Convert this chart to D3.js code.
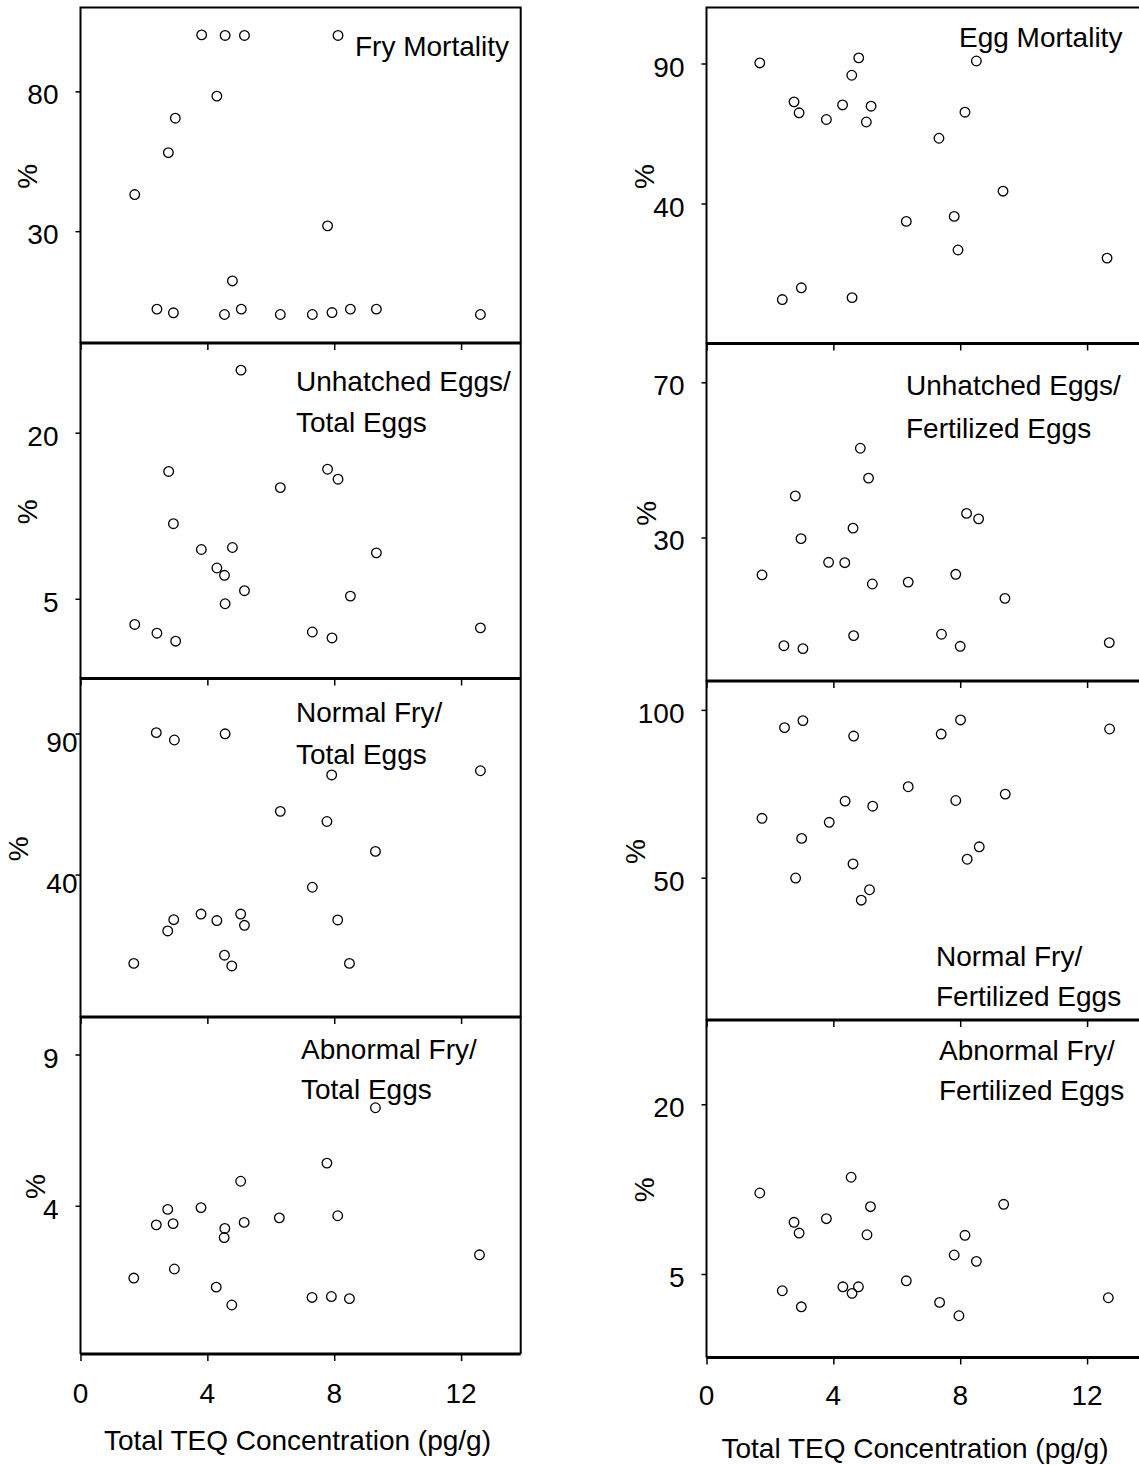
<!DOCTYPE html>
<html>
<head>
<meta charset="utf-8">
<script src="https://cdn.jsdelivr.net/npm/d3@7"></script>
<style>
  html, body { margin: 0; padding: 0; background: #fff; }
  svg text { font-family: "Liberation Sans", Arial, Helvetica, sans-serif; fill: #000; }
</style>
</head>
<body>
<svg id="chart" width="1139" height="1465"></svg>
<script>
// Each record: [total TEQ concentration (pg/g), percent]
const fryMortality = [
  [3.82, 100.2], [4.56, 100], [5.17, 100], [8.12, 100], [4.30, 78.3], [2.99, 70.4],
  [2.77, 58.1], [1.71, 43.1], [7.79, 31.9], [4.79, 12.2], [2.41, 2.1], [2.93, 0.8],
  [4.54, 0.2], [5.07, 2.1], [6.30, 0.2], [7.31, 0.2], [7.93, 0.9], [8.51, 2.1],
  [9.33, 2.1], [12.61, 0.2]
];
const unhatchedPerTotal = [
  [5.06, 25.65], [2.78, 16.5], [7.79, 16.7], [8.12, 15.8], [6.30, 15.04], [2.93, 11.78],
  [3.81, 9.45], [4.79, 9.63], [9.33, 9.15], [4.30, 7.78], [4.54, 7.12], [5.17, 5.73],
  [4.56, 4.55], [8.51, 5.24], [1.71, 2.68], [2.41, 1.89], [3.00, 1.17], [7.31, 2.0],
  [7.93, 1.46], [12.61, 2.37]
];
const normalFryPerTotal = [
  [2.39, 90.3], [2.96, 87.7], [4.56, 89.9], [7.92, 75.3], [12.61, 76.8], [6.30, 62.4],
  [7.77, 58.8], [9.30, 48.2], [7.31, 35.5], [3.80, 26.0], [5.05, 26.0], [2.94, 24.0],
  [4.30, 23.7], [8.11, 23.9], [5.17, 22.0], [2.75, 20.0], [4.54, 11.4], [4.77, 7.6],
  [1.68, 8.5], [8.48, 8.5]
];
const abnormalFryPerTotal = [
  [9.30, 7.24], [7.77, 5.41], [5.05, 4.81], [2.75, 3.88], [3.80, 3.94], [2.39, 3.37],
  [2.92, 3.41], [4.55, 3.25], [4.53, 2.95], [5.16, 3.45], [6.27, 3.60], [8.11, 3.67],
  [12.58, 2.38], [2.96, 1.91], [1.68, 1.61], [4.28, 1.31], [4.77, 0.72], [7.30, 0.97],
  [7.91, 1.0], [8.48, 0.93]
];
const eggMortality = [
  [1.68, 90.2], [4.80, 92.0], [4.58, 85.8], [8.51, 90.9], [2.76, 76.3], [2.92, 72.4],
  [3.78, 70.0], [4.29, 75.2], [5.19, 74.75], [5.04, 69.1], [8.15, 72.6], [7.33, 63.3],
  [9.35, 44.4], [6.30, 33.6], [7.81, 35.4], [7.93, 23.4], [12.63, 20.5], [2.39, 5.7],
  [2.99, 9.9], [4.59, 6.4]
];
const unhatchedPerFertilized = [
  [4.85, 53.0], [5.11, 45.3], [2.80, 40.7], [4.62, 32.4], [2.98, 29.7], [8.20, 36.2],
  [8.58, 34.8], [3.85, 23.6], [4.36, 23.5], [1.75, 20.35], [5.23, 18.0], [6.36, 18.5],
  [7.86, 20.5], [9.41, 14.3], [2.44, 2.1], [3.04, 1.35], [4.64, 4.7], [7.41, 5.05],
  [8.00, 1.95], [12.70, 2.9]
];
const normalFryPerFertilized = [
  [2.46, 94.7], [3.04, 96.8], [4.64, 92.2], [7.40, 92.8], [8.01, 97.0], [12.71, 94.3],
  [6.36, 77.1], [4.37, 72.8], [5.24, 71.3], [7.86, 73.0], [9.42, 74.9], [1.75, 67.7],
  [3.87, 66.5], [3.00, 61.7], [8.60, 59.2], [8.22, 55.5], [4.62, 54.1], [2.81, 49.9],
  [5.14, 46.4], [4.88, 43.3]
];
const abnormalFryPerFertilized = [
  [4.56, 13.55], [1.68, 12.16], [5.17, 10.95], [9.37, 11.16], [2.76, 9.57], [2.92, 8.62],
  [3.78, 9.89], [5.06, 8.47], [8.15, 8.42], [7.81, 6.68], [8.51, 6.12], [6.30, 4.40],
  [2.39, 3.52], [4.30, 3.87], [4.79, 3.87], [4.59, 3.29], [2.99, 2.1], [7.35, 2.49],
  [7.96, 1.31], [12.67, 2.9]
];

// Axis ticks
const xTicks = [0, 4, 8, 12];
const fryMortalityTicks = [30, 80];
const unhatchedPerTotalTicks = [5, 20];
const normalFryPerTotalTicks = [40, 90];
const abnormalFryPerTotalTicks = [4, 9];
const eggMortalityTicks = [40, 90];
const unhatchedPerFertilizedTicks = [30, 70];
const normalFryPerFertilizedTicks = [50, 100];
const abnormalFryPerFertilizedTicks = [5, 20];

// Panel captions
const fryMortalityCaption = ["Fry Mortality"];
const unhatchedPerTotalCaption = ["Unhatched Eggs/", "Total Eggs"];
const normalFryPerTotalCaption = ["Normal Fry/", "Total Eggs"];
const abnormalFryPerTotalCaption = ["Abnormal Fry/", "Total Eggs"];
const eggMortalityCaption = ["Egg Mortality"];
const unhatchedPerFertilizedCaption = ["Unhatched Eggs/", "Fertilized Eggs"];
const normalFryPerFertilizedCaption = ["Normal Fry/", "Fertilized Eggs"];
const abnormalFryPerFertilizedCaption = ["Abnormal Fry/", "Fertilized Eggs"];

const xTitle = "Total TEQ Concentration (pg/g)";
const yTitle = "%";

// ---- layout ----
const FONT = 28;
const xDomain = [0, 13.88];

const columns = [
  {
    x0: 80.5, x1: 520.7, labelGap: 22,
    titleX: 297.5, titleY: 1450, tickLabelY: 1403,
    panels: [
      { top: 7.5, bottom: 343, domain: [-10, 110], data: fryMortality, ticks: fryMortalityTicks,
        caption: fryMortalityCaption, capX: 355, capY: [56], pctX: 27, lblDx: 0, lblDy: 0 },
      { top: 343, bottom: 678.5, domain: [-2.2, 28.1], data: unhatchedPerTotal, ticks: unhatchedPerTotalTicks,
        caption: unhatchedPerTotalCaption, capX: 296, capY: [391, 432], pctX: 27, lblDx: 0, lblDy: 0 },
      { top: 678.5, bottom: 1017, domain: [-10.5, 109.5], data: normalFryPerTotal, ticks: normalFryPerTotalTicks,
        caption: normalFryPerTotalCaption, capX: 296, capY: [722, 764], pctX: 18, lblDx: 19, lblDy: 5 },
      { top: 1017, bottom: 1354, domain: [-0.9, 10.24], data: abnormalFryPerTotal, ticks: abnormalFryPerTotalTicks,
        caption: abnormalFryPerTotalCaption, capX: 301, capY: [1059, 1099], pctX: 35, lblDx: 0, lblDy: 0 }
    ]
  },
  {
    x0: 706.5, x1: 1146.7, labelGap: 22,
    titleX: 915, titleY: 1458, tickLabelY: 1405,
    panels: [
      { top: 7.5, bottom: 343.5, domain: [-10, 110], data: eggMortality, ticks: eggMortalityTicks,
        caption: eggMortalityCaption, capX: 959, capY: [47], pctX: 644, lblDx: 0, lblDy: 0 },
      { top: 343.5, bottom: 681, domain: [-7, 80], data: unhatchedPerFertilized, ticks: unhatchedPerFertilizedTicks,
        caption: unhatchedPerFertilizedCaption, capX: 906, capY: [395, 438], pctX: 646, lblDx: 0, lblDy: 0 },
      { top: 681, bottom: 1020, domain: [7.6, 108.6], data: normalFryPerFertilized, ticks: normalFryPerFertilizedTicks,
        caption: normalFryPerFertilizedCaption, capX: 936, capY: [966, 1006], pctX: 635, lblDx: 0, lblDy: 0 },
      { top: 1020, bottom: 1357.5, domain: [-2.38, 27.45], data: abnormalFryPerFertilized, ticks: abnormalFryPerFertilizedTicks,
        caption: abnormalFryPerFertilizedCaption, capX: 939, capY: [1060, 1100], pctX: 644, lblDx: 0, lblDy: 0 }
    ]
  }
];

const svg = d3.select("#chart");

columns.forEach(col => {
  const x = d3.scaleLinear().domain(xDomain).range([col.x0, col.x1]);
  const nPanels = col.panels.length;

  col.panels.forEach((p, i) => {
    const y = d3.scaleLinear().domain(p.domain).range([p.bottom, p.top]);
    const g = svg.append("g");

    // frame: left, top, right sides
    g.append("path")
      .attr("d", `M${col.x0},${p.bottom} V${p.top} H${col.x1} V${p.bottom}`)
      .attr("fill", "none").attr("stroke", "#000").attr("stroke-width", 2);

    // bottom x axis with outward ticks
    const xAxis = d3.axisBottom(x).tickValues(xTicks).tickSize(7).tickSizeOuter(0)
      .tickFormat(i === nPanels - 1 ? d3.format("d") : () => "");
    const gx = g.append("g").attr("transform", `translate(0,${p.bottom})`).call(xAxis);
    gx.select(".domain").attr("stroke-width", 3.2).attr("d", `M${col.x0},0H${col.x1}`);
    gx.selectAll(".tick line").attr("stroke-width", 1.5);
    gx.selectAll(".tick text").remove();

    // left y axis ticks + labels
    const yAxis = d3.axisLeft(y).tickValues(p.ticks).tickSize(5).tickSizeOuter(0).tickFormat("");
    const gy = g.append("g").attr("transform", `translate(${col.x0},0)`).call(yAxis);
    gy.select(".domain").remove();
    gy.selectAll(".tick line").attr("stroke-width", 1.5);

    g.selectAll("text.ytick").data(p.ticks).join("text")
      .attr("class", "ytick")
      .attr("x", col.x0 - col.labelGap + p.lblDx)
      .attr("y", d => y(d) + 13 + p.lblDy)
      .attr("text-anchor", "end")
      .attr("font-size", FONT)
      .text(d => d);

    // y title
    g.append("text")
      .attr("transform", `translate(${p.pctX},${(p.top + p.bottom) / 2 + 1}) rotate(-90)`)
      .attr("text-anchor", "middle")
      .attr("dominant-baseline", "central")
      .attr("font-size", FONT)
      .text(yTitle);

    // caption
    g.selectAll("text.caption").data(p.caption).join("text")
      .attr("class", "caption")
      .attr("x", p.capX)
      .attr("y", (d, k) => p.capY[k])
      .attr("font-size", FONT)
      .text(d => d);

    // points
    g.selectAll("circle").data(p.data).join("circle")
      .attr("cx", d => x(d[0]))
      .attr("cy", d => y(d[1]))
      .attr("r", 4.8)
      .attr("fill", "none")
      .attr("stroke", "#000")
      .attr("stroke-width", 1.3);
  });

  // x tick labels under the last panel
  svg.append("g").selectAll("text").data(xTicks).join("text")
    .attr("x", d => x(d))
    .attr("y", col.tickLabelY)
    .attr("text-anchor", "middle")
    .attr("font-size", FONT)
    .text(d => d);

  // x title
  svg.append("text")
    .attr("x", col.titleX)
    .attr("y", col.titleY)
    .attr("text-anchor", "middle")
    .attr("font-size", FONT)
    .text(xTitle);
});
</script>
</body>
</html>
